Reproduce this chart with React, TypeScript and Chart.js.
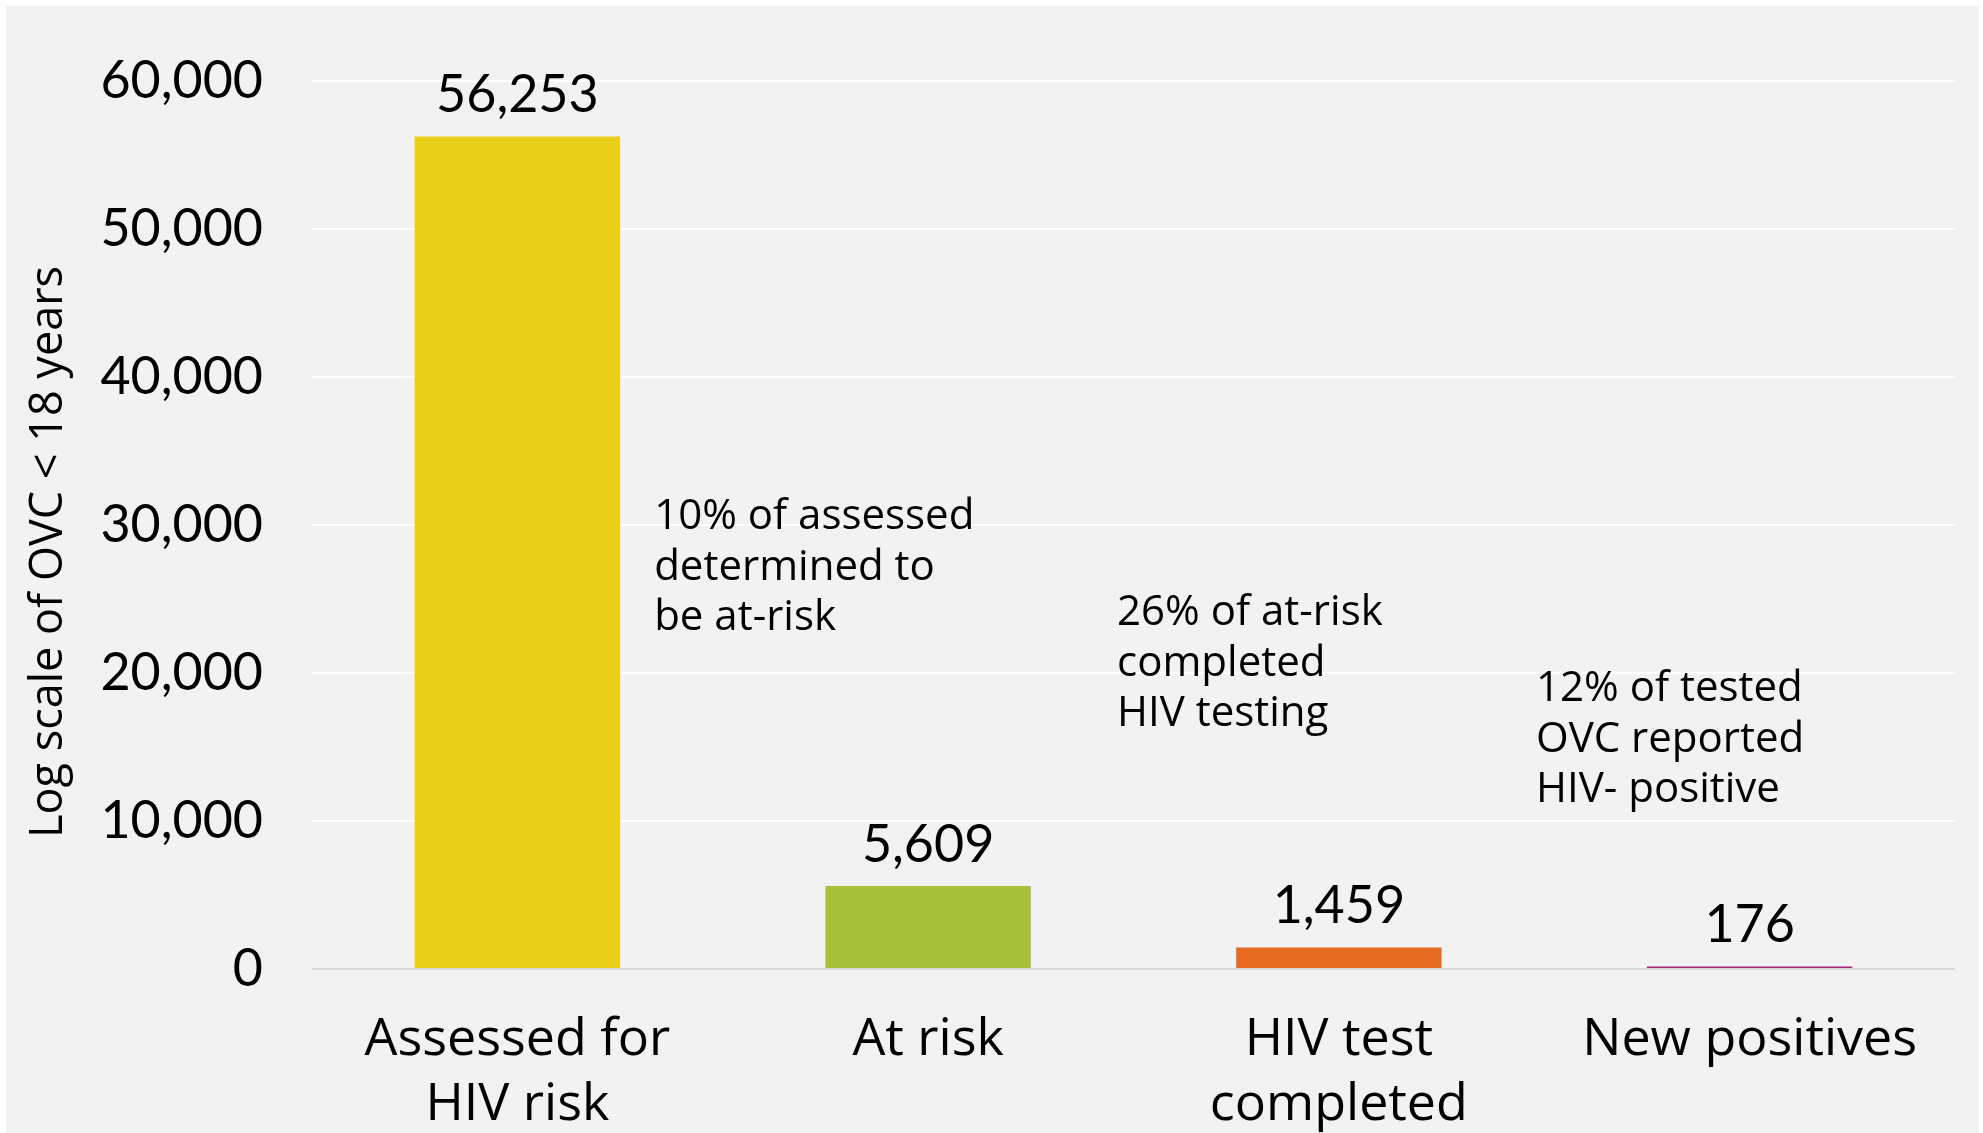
import React, { useEffect, useRef } from "react";
import { Chart, registerables } from "chart.js";

Chart.register(...registerables);

const categories: string[][] = [
  ["Assessed for", "HIV risk"],
  ["At risk"],
  ["HIV test", "completed"],
  ["New positives"],
];
const values: number[] = [56253, 5609, 1459, 176];
const barColors: string[] = ["#EACF1A", "#A7C13A", "#E66A21", "#A62A7E"];
const yTicks: number[] = [0, 10000, 20000, 30000, 40000, 50000, 60000];
const yTitle = "Log scale of OVC < 18 years";

const noteLines: string[][] = [
  ["10% of assessed", "determined to", "be at-risk"],
  ["26% of at-risk", "completed", "HIV testing"],
  ["12% of tested", "OVC reported", "HIV- positive"],
];
// anchors in data space: x = category index position, y = value of first line
const noteX: number[] = [0.333, 1.46, 2.48];
const noteY: number[] = [30530, 24030, 18900];

const NUM_FONT = "Lato";
const TXT_FONT = "'Open Sans'";

const fmt = (v: number) => v.toLocaleString("en-US");

export default function App() {
  const ref = useRef<HTMLCanvasElement>(null);

  useEffect(() => {
    document.body.style.margin = "0";
    const canvas = ref.current!;
    const bgPlugin = {
      id: "bg",
      beforeDraw(chart: any) {
        const c = chart.ctx;
        c.save();
        c.fillStyle = "#ffffff";
        c.fillRect(0, 0, chart.width, chart.height);
        c.fillStyle = "#f2f2f2";
        c.fillRect(6, 6, chart.width - 10, chart.height);
        c.restore();
      },
    };
    const labelPlugin = {
      id: "labels",
      afterDatasetsDraw(chart: any) {
        const c = chart.ctx;
        const meta = chart.getDatasetMeta(0);
        const xs = chart.scales.x;
        const ys = chart.scales.y;
        c.save();
        c.fillStyle = "#000000";
        c.textAlign = "center";
        c.textBaseline = "middle";
        c.font = `52px ${NUM_FONT}`;
        meta.data.forEach((bar: any, i: number) => {
          c.fillText(fmt(values[i]), bar.x, bar.y - 41);
        });
        c.textAlign = "left";
        c.font = `42px ${TXT_FONT}`;
        noteLines.forEach((lines, i) => {
          const step = xs.getPixelForValue(1) - xs.getPixelForValue(0);
          const x = xs.getPixelForValue(0) + noteX[i] * step;
          const y0 = ys.getPixelForValue(noteY[i]);
          lines.forEach((t, j) => c.fillText(t, x, y0 + j * 50.5));
        });
        // y axis title
        c.save();
        c.translate(49, (ys.top + ys.bottom) / 2 + 27);
        c.rotate(-Math.PI / 2);
        c.textAlign = "center";
        c.textBaseline = "middle";
        c.font = `45px ${TXT_FONT}`;
        c.fillText(yTitle, 0, 0);
        c.restore();
        c.restore();
      },
    };

    const chart = new Chart(canvas, {
      type: "bar",
      data: {
        labels: categories,
        datasets: [
          {
            data: values,
            backgroundColor: barColors,
            borderWidth: 0,
            categoryPercentage: 0.5,
            barPercentage: 1.0,
          },
        ],
      },
      options: {
        animation: false,
        responsive: false,
        maintainAspectRatio: false,
        devicePixelRatio: 1,
        layout: { padding: { left: 0, top: 81, right: 28, bottom: 0 } },
        plugins: {
          legend: { display: false },
          tooltip: { enabled: false },
          title: { display: false },
        },
        scales: {
          x: {
            grid: { display: false, drawTicks: false },
            border: { display: false },
            ticks: {
              color: "#000000",
              font: { family: TXT_FONT, size: 52, lineHeight: 1.25 },
              padding: 39,
              maxRotation: 0,
              autoSkip: false,
            },
            afterFit(scale: any) {
              scale.height = 164;
            },
          },
          y: {
            min: 0,
            max: 60000,
            afterBuildTicks(scale: any) {
              scale.ticks = yTicks.map((v) => ({ value: v }));
            },
            grid: {
              drawTicks: false,
              lineWidth: 2,
              color: (ctx: any) => (ctx.tick && ctx.tick.value === 0 ? "#d9d9d9" : "#ffffff"),
            },
            border: { display: false },
            ticks: {
              color: "#000000",
              font: { family: NUM_FONT, size: 52 },
              padding: 49,
              callback: (v: any) => fmt(Number(v)),
            },
            title: { display: false, text: yTitle },
            afterFit(scale: any) {
              scale.width = 312;
            },
          },
        },
      },
      plugins: [bgPlugin, labelPlugin],
    });
    return () => chart.destroy();
  }, []);

  return (
    <div style={{ position: "absolute", left: 0, top: 0, width: 1983, height: 1133 }}>
      <canvas ref={ref} width={1983} height={1133} style={{ width: 1983, height: 1133, display: "block" }} />
    </div>
  );
}
